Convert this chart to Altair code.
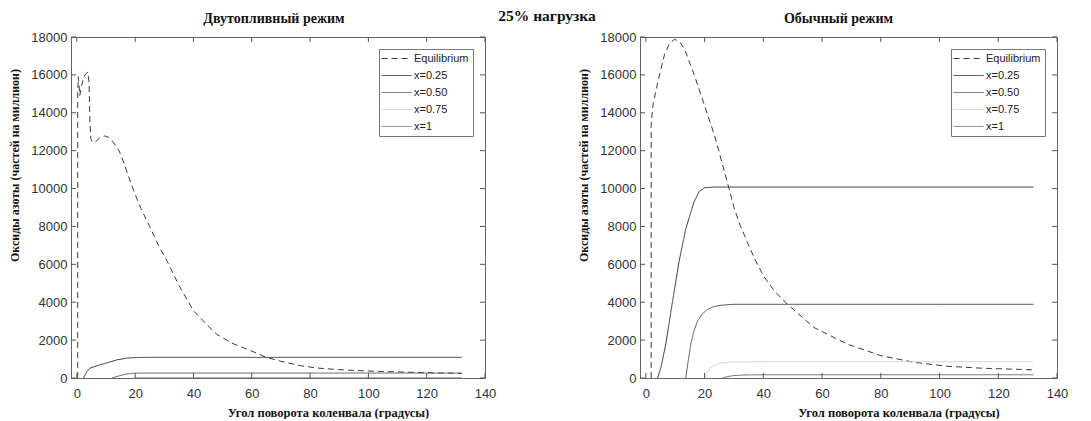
import altair as alt
import pandas as pd

# ---------------- data ----------------
series_names = ["Equilibrium", "x=0.25", "x=0.50", "x=0.75", "x=1"]
series_colors = ["#3a3a3a", "#333333", "#5a5a5a", "#cfcfcf", "#777777"]
series_dash = [[6, 4], [1, 0], [1, 0], [1, 0], [1, 0]]

x_ticks = [0, 20, 40, 60, 80, 100, 120, 140]
y_ticks = [0, 2000, 4000, 6000, 8000, 10000, 12000, 14000, 16000, 18000]

# Dual-fuel mode (left)
eq_dual_x = [0.3, 0.3, 0.5, 0.7, 1.0, 1.5, 2.2, 3.0, 3.8, 4.2, 4.5, 4.8, 5.5, 6.5, 8, 9.5, 11,
             12.5, 14.5, 16.5, 18.5, 20.5, 22, 25, 28, 31, 35, 40, 45, 48, 53, 60, 65, 70, 77,
             83, 88, 95, 100, 110, 120, 132]
eq_dual_y = [0, 15000, 15900, 15600, 14900, 15300, 15800, 16050, 16150, 15600, 13500, 12600,
             12420, 12480, 12700, 12780, 12700, 12450, 12000, 11200, 10300, 9500, 8940, 8000,
             7000, 6150, 4900, 3550, 2750, 2310, 1850, 1420, 1090, 880, 640, 520, 460, 400, 370,
             320, 280, 240]
d025_x = [2.3, 3.3, 4.5, 6, 8.1, 11, 13.8, 17.3, 20.8, 25, 40, 60, 80, 100, 132]
d025_y = [0, 300, 520, 600, 700, 830, 960, 1050, 1085, 1090, 1090, 1090, 1090, 1090, 1090]
d050_x = [12.1, 14, 16.1, 18, 20.1, 25, 40, 60, 80, 100, 132]
d050_y = [0, 90, 177, 230, 255, 262, 262, 262, 262, 262, 262]
d075_x = [20, 40, 60, 80, 100, 132]
d075_y = [0, 0, 0, 0, 0, 0]
d100_x = [20, 40, 60, 80, 100, 132]
d100_y = [0, 0, 0, 0, 0, 0]

# Normal mode (right)
eq_norm_x = [1.8, 1.8, 2.5, 4.1, 6.3, 8, 9.75, 11.5, 13.1, 16.5, 19.9, 23.3, 25, 26.7, 28.5,
             30, 32, 34.6, 37, 40.2, 44, 48.3, 57.3, 68.6, 80, 91.3, 102.6, 113.9, 132]
eq_norm_y = [0, 13400, 14500, 15640, 17040, 17650, 17880, 17750, 17390, 15990, 14420, 12840,
             11900, 10920, 9900, 9000, 8100, 7150, 6300, 5350, 4550, 3880, 2660, 1790, 1180,
             830, 620, 520, 430]
n025_x = [4.0, 5.2, 6.8, 9.1, 11.3, 13.6, 16.4, 18.2, 19.9, 23.3, 30, 60, 100, 132]
n025_y = [0, 600, 1800, 4060, 6150, 7880, 9300, 9850, 10040, 10080, 10080, 10080, 10080, 10080]
n050_x = [13.6, 14.4, 15.3, 16.4, 17.6, 19.2, 21, 23, 25.5, 30, 60, 100, 132]
n050_y = [0, 900, 1800, 2500, 3010, 3380, 3620, 3760, 3840, 3890, 3890, 3890, 3890]
n075_x = [20, 20.2, 22.1, 23.8, 25.5, 28, 30, 40, 60, 100, 132]
n075_y = [0, 140, 575, 700, 780, 830, 850, 860, 860, 860, 860]
n100_x = [26, 28, 30, 33, 36, 40, 60, 100, 132]
n100_y = [0, 80, 130, 155, 165, 170, 170, 170, 170]


def long_df(parts):
    rows = []
    for name, xs, ys in parts:
        for i, (xv, yv) in enumerate(zip(xs, ys)):
            rows.append({"series": name, "x": xv, "y": yv, "i": i})
    return pd.DataFrame(rows)


df_dual = long_df([("Equilibrium", eq_dual_x, eq_dual_y), ("x=0.25", d025_x, d025_y),
                   ("x=0.50", d050_x, d050_y), ("x=0.75", d075_x, d075_y),
                   ("x=1", d100_x, d100_y)])
df_norm = long_df([("Equilibrium", eq_norm_x, eq_norm_y), ("x=0.25", n025_x, n025_y),
                   ("x=0.50", n050_x, n050_y), ("x=0.75", n075_x, n075_y),
                   ("x=1", n100_x, n100_y)])

H = 341
SANS = "Liberation Sans"
SERIF = "Liberation Serif"
XTITLE = "Угол поворота коленвала (градусы)"
YTITLE = "Оксиды азоты (частей на миллион)"


def make_legend():
    return alt.Legend(title=None, orient="top-right", offset=12, strokeColor="#777",
                      fillColor="white", padding=4, symbolType="M-3,0H3", symbolSize=100,
                      symbolStrokeWidth=1, symbolOffset=8, labelOffset=12, labelFont=SANS,
                      labelFontSize=11, labelColor="#222", rowPadding=5, cornerRadius=0)


def panel(df, title, W, title_dx, extra=None):
    xs = alt.Scale(domain=[-2, 140], nice=False, zero=False)
    ys = alt.Scale(domain=[0, 18000], nice=False, zero=False)
    xaxis = alt.Axis(
        values=x_ticks, format="d", grid=False, ticks=False, domain=False, labelFlush=False,
        labelFont=SANS, labelFontSize=13, labelColor="#333", labelPadding=9,
        title=XTITLE, titleFont=SERIF, titleFontSize=12.5, titleFontWeight="bold",
        titleColor="#111", titlePadding=6, titleX=W / 2 + 50)
    yaxis = alt.Axis(
        values=y_ticks, format="d", grid=False, ticks=False, domain=False, labelFlush=False,
        labelFont=SANS, labelFontSize=13, labelColor="#333", labelPadding=4,
        title=YTITLE, titleFont=SERIF, titleFontSize=12, titleFontWeight="bold",
        titleColor="#111", titlePadding=9, titleY=128)
    lines = alt.Chart(df).mark_line(strokeWidth=1, clip=True).encode(
        x=alt.X("x:Q", scale=xs, axis=xaxis),
        y=alt.Y("y:Q", scale=ys, axis=yaxis),
        color=alt.Color("series:N", scale=alt.Scale(domain=series_names, range=series_colors),
                        legend=make_legend()),
        strokeDash=alt.StrokeDash("series:N", scale=alt.Scale(domain=series_names,
                                                              range=series_dash),
                                  legend=make_legend()),
        order=alt.Order("i:Q"),
    )
    xt = pd.DataFrame({"t": x_ticks})
    yt = pd.DataFrame({"t": y_ticks})
    tick_style = dict(color="#555", strokeWidth=1)
    bot = alt.Chart(xt).mark_rule(**tick_style).encode(
        x=alt.X("t:Q", scale=xs, axis=xaxis), y=alt.value(H), y2=alt.value(H - 5))
    top = alt.Chart(xt).mark_rule(**tick_style).encode(
        x=alt.X("t:Q", scale=xs, axis=xaxis), y=alt.value(0), y2=alt.value(5))
    lft = alt.Chart(yt).mark_rule(**tick_style).encode(
        y=alt.Y("t:Q", scale=ys, axis=yaxis), x=alt.value(0), x2=alt.value(5))
    rgt = alt.Chart(yt).mark_rule(**tick_style).encode(
        y=alt.Y("t:Q", scale=ys, axis=yaxis), x=alt.value(W), x2=alt.value(W - 5))
    ttl = alt.Chart(pd.DataFrame({"label": [title]})).mark_text(
        font=SERIF, fontSize=14, fontWeight="bold", color="#111", align="center",
        baseline="middle").encode(text="label:N", x=alt.value(W / 2 + title_dx),
                                  y=alt.value(-18))
    layers = [lines, bot, top, lft, rgt, ttl]
    if extra is not None:
        layers.append(extra)
    return alt.layer(*layers).properties(width=W, height=H)


load_text = alt.Chart(pd.DataFrame({"label": ["25% нагрузка"]})).mark_text(
    font=SERIF, fontSize=15.5, fontWeight="bold", color="#111", align="center",
    baseline="middle").encode(text="label:N", x=alt.value(476), y=alt.value(-21))

left = panel(df_dual, "Двутопливный режим", 414, -4, load_text)
right = panel(df_norm, "Обычный режим", 417, -10)

chart = alt.hconcat(left, right, spacing=155).resolve_scale(
    color="independent", strokeDash="independent", x="independent", y="independent"
).resolve_legend(color="independent", strokeDash="independent").properties(
    padding=0, bounds="flush", background="white"
).configure_view(stroke="#666", strokeWidth=1)

chart.save("out.html", embed_options={"renderer": "svg", "actions": False})
